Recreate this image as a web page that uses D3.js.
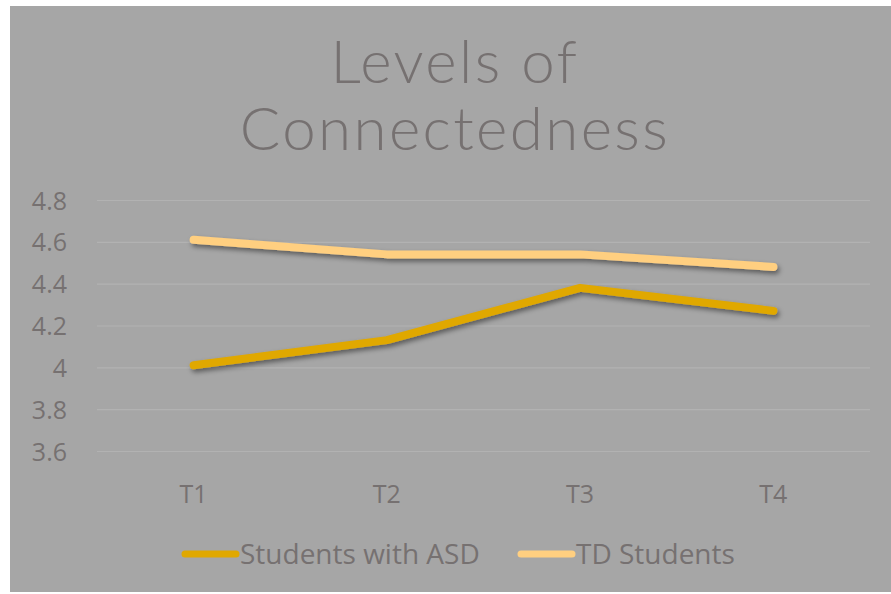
<!DOCTYPE html>
<html><head><meta charset="utf-8">
<script src="https://cdn.jsdelivr.net/npm/d3@7"></script>
<style>body{margin:0;background:#fff;}svg{display:block;}</style>
</head><body>
<svg id="chart" width="891" height="594"></svg>
<script>
const categories = ["T1","T2","T3","T4"];
const asdValues = [4.01, 4.13, 4.38, 4.27];
const tdValues = [4.61, 4.54, 4.54, 4.48];
const yTicks = [3.6, 3.8, 4.0, 4.2, 4.4, 4.6, 4.8];
const seriesNames = ["Students with ASD", "TD Students"];
const seriesColors = ["#E0A800", "#FFCF80"];
const titleLines = ["Levels of", "Connectedness"];

const svg = d3.select("#chart");
const textColor = "#767171";
const font = "'Open Sans',sans-serif";

const defs = svg.append("defs");
const f = defs.append("filter").attr("id","shadow").attr("x","-10%").attr("y","-30%").attr("width","130%").attr("height","200%");
f.append("feDropShadow").attr("dx",2).attr("dy",3).attr("stdDeviation",2.5).attr("flood-color","#000").attr("flood-opacity",0.45);

svg.append("rect").attr("x",10).attr("y",6).attr("width",881).attr("height",586).attr("fill","#A6A6A6");

svg.append("text").attr("text-anchor","middle")
  .attr("font-family","Lato,'Open Sans',sans-serif").attr("font-weight",300)
  .attr("font-size",60).attr("letter-spacing",2.4).attr("fill",textColor)
  .selectAll("tspan").data(titleLines).join("tspan")
  .attr("x",455).attr("y",(d,i)=>83+i*67).text(d=>d);

const x = d3.scaleBand().domain(categories).range([97,870]);
const y = d3.scaleLinear().domain([3.6,4.8]).range([451,200]);

const yAxis = svg.append("g").attr("transform","translate(97,0)")
  .call(d3.axisLeft(y).tickValues(yTicks).tickSize(-773).tickFormat(d=>d3.format("")(+d.toFixed(1))));
yAxis.select(".domain").remove();
yAxis.selectAll(".tick line").attr("stroke","#B2B2B2").attr("stroke-width",1.2);
yAxis.selectAll(".tick text").attr("x",-30).attr("dy","0.36em").attr("fill",textColor)
  .attr("font-family",font).attr("font-size",25);

const xAxis = svg.append("g").attr("transform","translate(0,451)")
  .call(d3.axisBottom(x).tickSize(0));
xAxis.select(".domain").remove();
xAxis.selectAll(".tick text").attr("dy",0).attr("y",52).attr("fill",textColor)
  .attr("font-family",font).attr("font-size",25);

const line = d3.line().x((d,i)=>x(categories[i])+x.bandwidth()/2).y(d=>y(d));
[asdValues, tdValues].forEach((vals,i)=>{
  svg.append("path").datum(vals).attr("d",line).attr("fill","none")
    .attr("stroke",seriesColors[i]).attr("stroke-width",8)
    .attr("stroke-linecap","round").attr("stroke-linejoin","round")
    .attr("filter","url(#shadow)");
});

const legendX = [182, 518];
const lg = svg.append("g");
seriesNames.forEach((name,i)=>{
  lg.append("line").attr("x1",legendX[i]+3).attr("x2",legendX[i]+54).attr("y1",554).attr("y2",554)
    .attr("stroke",seriesColors[i]).attr("stroke-width",7).attr("stroke-linecap","round");
  lg.append("text").attr("x",legendX[i]+58).attr("y",564).attr("fill",textColor)
    .attr("font-family",font).attr("font-size",28).text(name);
});
</script>
</body></html>
